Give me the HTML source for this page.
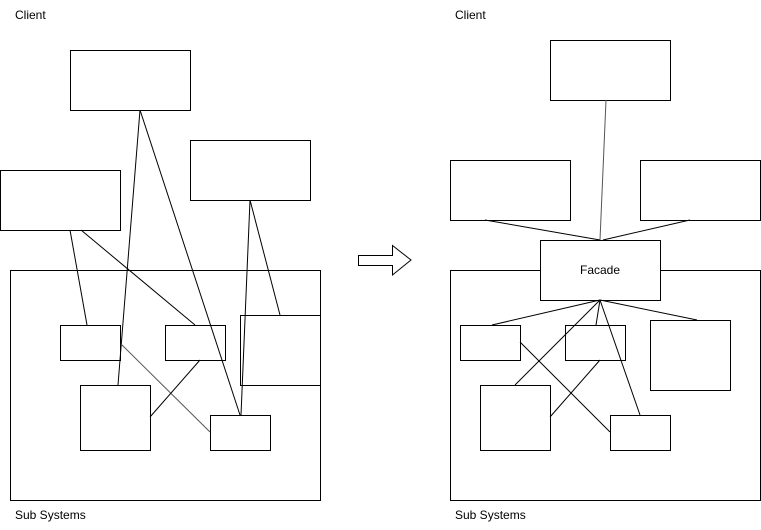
<!DOCTYPE html>
<html><head><style>body{margin:0;background:#fff}svg{display:block}text{font-family:"Liberation Sans",sans-serif;font-size:12px;fill:#000}</style></head><body>
<svg width="761" height="530" viewBox="0 0 761 530" xmlns="http://www.w3.org/2000/svg">
<g fill="#fff" stroke="#000" stroke-width="1">
<rect x="10.5" y="270.5" width="310" height="230"/>
<rect x="70.5" y="50.5" width="120" height="60"/>
<rect x="0.5" y="170.5" width="120" height="60"/>
<rect x="190.5" y="140.5" width="120" height="60"/>
<rect x="60.5" y="325.5" width="60" height="35"/>
<rect x="165.5" y="325.5" width="60" height="35"/>
<rect x="240.5" y="315.5" width="80" height="70"/>
<rect x="80.5" y="385.5" width="70" height="65"/>
<rect x="210.5" y="415.5" width="60" height="35"/>
</g>
<g stroke="#000" stroke-width="1" fill="none">
<line x1="140" y1="110" x2="118" y2="385"/>
<line x1="140" y1="110" x2="240" y2="415"/>
<line x1="70" y1="230" x2="87" y2="325"/>
<line x1="81" y1="230" x2="195" y2="325"/>
<line x1="250" y1="200" x2="241" y2="415"/>
<line x1="250" y1="200" x2="280" y2="315"/>
<line x1="121" y1="344" x2="210" y2="432" stroke="#555"/>
<line x1="150" y1="417" x2="200" y2="360"/>
</g>
<polygon points="358.5,255.5 392.5,255.5 392.5,245.5 411,260 392.5,275 392.5,265.5 358.5,265.5" fill="#fff" stroke="#000"/>
<g fill="#fff" stroke="#000" stroke-width="1">
<rect x="450.5" y="270.5" width="310" height="230"/>
<rect x="550.5" y="40.5" width="120" height="60"/>
<rect x="450.5" y="160.5" width="120" height="60"/>
<rect x="640.5" y="160.5" width="120" height="60"/>
<rect x="540.5" y="240.5" width="120" height="60"/>
<rect x="460.5" y="325.5" width="60" height="35"/>
<rect x="565.5" y="325.5" width="60" height="35"/>
<rect x="650.5" y="320.5" width="80" height="70"/>
<rect x="480.5" y="385.5" width="70" height="65"/>
<rect x="610.5" y="415.5" width="60" height="35"/>
</g>
<g stroke="#000" stroke-width="1" fill="none">
<line x1="606" y1="100" x2="600" y2="240" stroke="#555"/>
<line x1="485" y1="220" x2="600" y2="240"/>
<line x1="690" y1="220" x2="603" y2="240"/>
<line x1="600" y1="300" x2="492" y2="325"/>
<line x1="600" y1="300" x2="596" y2="325"/>
<line x1="600" y1="300" x2="697" y2="320"/>
<line x1="600" y1="300" x2="515" y2="385"/>
<line x1="600" y1="300" x2="640" y2="415"/>
<line x1="520" y1="342" x2="610" y2="432"/>
<line x1="550" y1="417" x2="600" y2="360"/>
</g>
<text x="600" y="274" text-anchor="middle">Facade</text>
<text x="15" y="19">Client</text>
<text x="455" y="19">Client</text>
<text x="15" y="519">Sub Systems</text>
<text x="455" y="519">Sub Systems</text>
</svg>
</body></html>
